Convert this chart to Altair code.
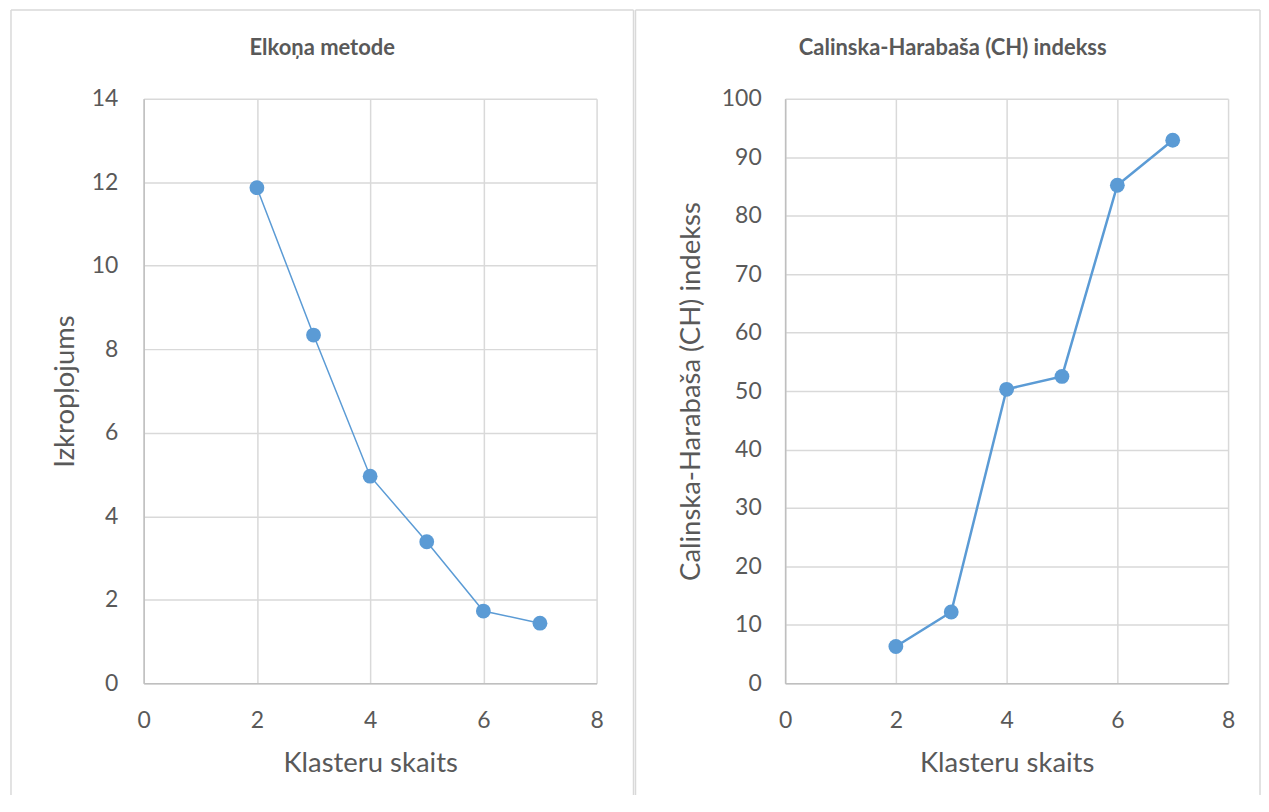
import altair as alt
import pandas as pd

clusters = [2, 3, 4, 5, 6, 7]
distortion = [11.87, 8.34, 4.96, 3.39, 1.73, 1.44]
ch_index = [6.3, 12.2, 50.3, 52.5, 85.2, 92.9]
x_ticks = [0, 2, 4, 6, 8]
elbow_ticks = [0, 2, 4, 6, 8, 10, 12, 14]
ch_ticks = [0, 10, 20, 30, 40, 50, 60, 70, 80, 90, 100]

titles = ["Elkoņa metode", "Calinska-Harabaša (CH) indekss"]
y_titles = ["Izkropļojums", "Calinska-Harabaša (CH) indekss"]
x_title = "Klasteru skaits"

FONT = "Lato"
TEXT = "#595959"
GRID = "#d9d9d9"
DOMAIN = "#bfbfbf"
BLUE = "#5b9bd5"

TOP = -89
BOTTOM = 698


def panel(values, ticks, ymax, title, ytitle, width, frame_left, frame_right,
          title_x, ypad, ytitle_pad, line_w):
    df = pd.DataFrame({"k": clusters, "v": values})
    x = alt.X("k:Q", scale=alt.Scale(domain=[0, 8], nice=False, zero=False),
              axis=alt.Axis(values=x_ticks, title=x_title, labelPadding=26,
                            titlePadding=17, labelFlush=False))
    y = alt.Y("v:Q", scale=alt.Scale(domain=[0, ymax], nice=False),
              axis=alt.Axis(values=ticks, title=ytitle, labelPadding=ypad,
                            titlePadding=ytitle_pad))
    base = alt.Chart(df)
    line = base.mark_line(color=BLUE, strokeWidth=line_w).encode(x=x, y=y)
    pts = base.mark_circle(color=BLUE, opacity=1, size=220).encode(x=x, y=y)
    one = pd.DataFrame({"t": [title]})
    fb = alt.Chart(one)
    rule_style = dict(color=GRID, strokeWidth=1.5)
    top_edge = fb.mark_rule(**rule_style).encode(
        x=alt.value(frame_left), x2=alt.value(frame_right), y=alt.value(TOP))
    left_edge = fb.mark_rule(**rule_style).encode(
        x=alt.value(frame_left), y=alt.value(TOP), y2=alt.value(BOTTOM))
    right_edge = fb.mark_rule(**rule_style).encode(
        x=alt.value(frame_right), y=alt.value(TOP), y2=alt.value(BOTTOM))
    head = fb.mark_text(font=FONT, fontSize=22, fontWeight="bold", color=TEXT,
                        align="center", baseline="middle").encode(
        x=alt.value(title_x), y=alt.value(-51), text="t:N")
    return alt.layer(top_edge, left_edge, right_edge, line, pts, head).properties(
        width=width, height=586)


left = panel(distortion, elbow_ticks, 14, titles[0], y_titles[0], 454,
             -133, 491, 179, 26, 12, 1.5)
right = panel(ch_index, ch_ticks, 100, titles[1], y_titles[1], 444,
              -150, 476, 168, 24, 16, 2.5)

chart = alt.hconcat(left, right, spacing=0).properties(
    padding={"left": 2, "top": 0, "right": 0, "bottom": 0}
).configure_axis(
    labelFont=FONT, titleFont=FONT, labelFontSize=23, titleFontSize=27.5,
    labelColor=TEXT, titleColor=TEXT, titleFontWeight="normal",
    gridColor=GRID, gridWidth=1.5, domainColor=DOMAIN, domainWidth=1.5,
    ticks=False, tickSize=0
).configure_view(stroke=None)

chart.save("out.html", embed_options={"renderer": "svg", "actions": False})
